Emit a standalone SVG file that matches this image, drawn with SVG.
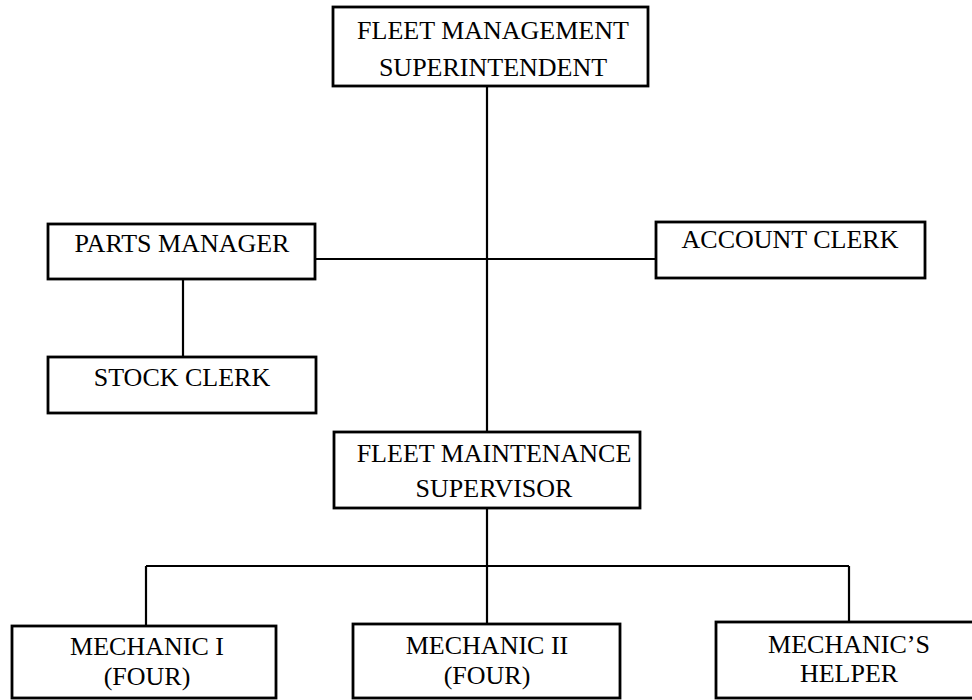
<svg xmlns="http://www.w3.org/2000/svg" width="972" height="700" viewBox="0 0 972 700">
<style>
.box{fill:#fff;stroke:#000;stroke-width:2.8}
.ln{fill:none;stroke:#000;stroke-width:2.2}
text{font-family:"Liberation Serif","Times New Roman",serif;font-size:26px;fill:#000;text-anchor:middle}
</style>
<rect width="972" height="700" fill="#fff"/>
<g id="connectors">
<line class="ln" x1="487" y1="86" x2="487" y2="432"/>
<line class="ln" x1="315" y1="259" x2="656" y2="259"/>
<line class="ln" x1="183" y1="279" x2="183" y2="357"/>
<line class="ln" x1="487" y1="508" x2="487" y2="624"/>
<line class="ln" x1="146" y1="566" x2="849" y2="566"/>
<line class="ln" x1="146" y1="566" x2="146" y2="626"/>
<line class="ln" x1="849" y1="566" x2="849" y2="622"/>
</g>
<g id="superintendent">
<rect class="box" x="333" y="7" width="315" height="79"/>
<text x="493" y="39">FLEET MANAGEMENT</text>
<text x="493" y="76">SUPERINTENDENT</text>
</g>
<g id="parts-manager">
<rect class="box" x="48" y="224" width="267" height="55"/>
<text x="182" y="252">PARTS MANAGER</text>
</g>
<g id="account-clerk">
<rect class="box" x="656" y="222" width="269" height="56"/>
<text x="790" y="248">ACCOUNT CLERK</text>
</g>
<g id="stock-clerk">
<rect class="box" x="48" y="357" width="268" height="56"/>
<text x="182" y="386">STOCK CLERK</text>
</g>
<g id="supervisor">
<rect class="box" x="334" y="432" width="306" height="76"/>
<text x="494" y="462">FLEET MAINTENANCE</text>
<text x="494" y="497">SUPERVISOR</text>
</g>
<g id="mechanic-1">
<rect class="box" x="12" y="626" width="264" height="72"/>
<text x="147" y="655">MECHANIC I</text>
<text x="147" y="685">(FOUR)</text>
</g>
<g id="mechanic-2">
<rect class="box" x="353" y="624" width="267" height="74"/>
<text x="487" y="654">MECHANIC II</text>
<text x="487" y="684">(FOUR)</text>
</g>
<g id="mechanics-helper">
<rect class="box" x="716" y="622" width="268" height="76"/>
<text x="849" y="653">MECHANIC’S</text>
<text x="849" y="682">HELPER</text>
</g>
</svg>
